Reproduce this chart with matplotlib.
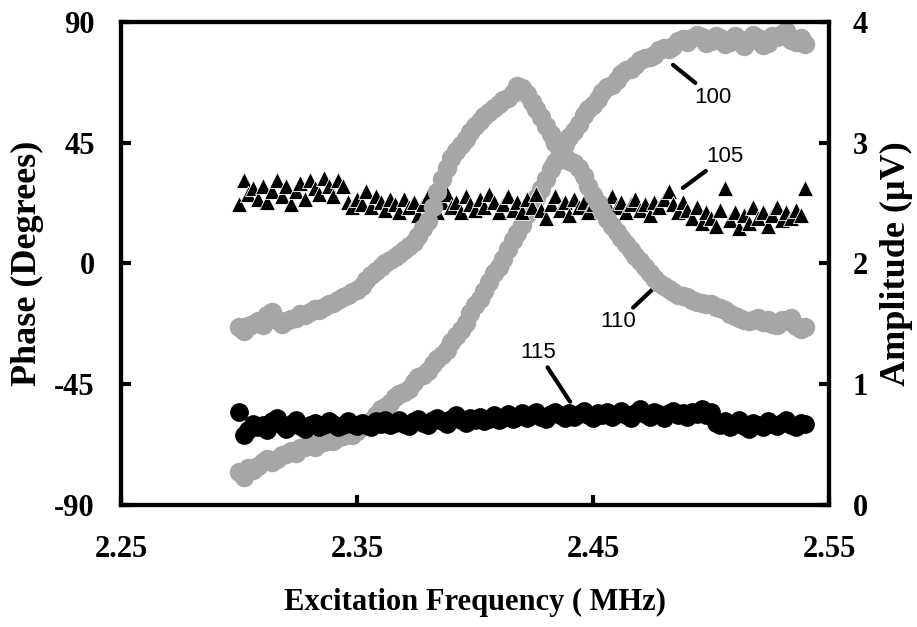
import matplotlib.pyplot as plt

plt.rcParams['axes.unicode_minus'] = False

# excitation frequency (MHz), shared by every trace
freq = [2.300, 2.302, 2.304, 2.306, 2.308, 2.310, 2.312, 2.314, 2.316, 2.318,
        2.320, 2.322, 2.324, 2.326, 2.328, 2.330, 2.332, 2.334, 2.336, 2.338,
        2.340, 2.342, 2.344, 2.346, 2.348, 2.350, 2.352, 2.354, 2.356, 2.358,
        2.360, 2.362, 2.364, 2.366, 2.368, 2.370, 2.372, 2.374, 2.376, 2.378,
        2.380, 2.382, 2.384, 2.386, 2.388, 2.390, 2.392, 2.394, 2.396, 2.398,
        2.400, 2.402, 2.404, 2.406, 2.408, 2.410, 2.412, 2.414, 2.416, 2.418,
        2.420, 2.422, 2.424, 2.426, 2.428, 2.430, 2.432, 2.434, 2.436, 2.438,
        2.440, 2.442, 2.444, 2.446, 2.448, 2.450, 2.452, 2.454, 2.456, 2.458,
        2.460, 2.462, 2.464, 2.466, 2.468, 2.470, 2.472, 2.474, 2.476, 2.478,
        2.480, 2.482, 2.484, 2.486, 2.488, 2.490, 2.492, 2.494, 2.496, 2.498,
        2.500, 2.502, 2.504, 2.506, 2.508, 2.510, 2.512, 2.514, 2.516, 2.518,
        2.520, 2.522, 2.524, 2.526, 2.528, 2.530, 2.532, 2.534, 2.536, 2.538,
        2.540]

# 100: phase (degrees), gray circles
phase_100 = [-77.7, -79.5, -76.2, -77.0, -75.6, -74.0, -73.0, -74.2, -72.8, -71.5,
             -71.0, -69.8, -70.6, -69.0, -68.5, -67.3, -68.4, -66.8, -66.5, -65.5,
             -66.2, -64.8, -64.2, -63.0, -63.9, -62.5, -61.0, -60.2, -58.6, -56.5,
             -54.2, -53.5, -51.9, -50.0, -48.6, -48.0, -46.8, -44.2, -42.3, -41.5,
             -40.1, -37.6, -35.6, -34.2, -32.3, -29.5, -27.0, -24.8, -22.2, -18.6,
             -15.5, -13.2, -10.3, -6.8, -3.6, -1.2, 1.7, 5.3, 8.7, 11.2,
             14.4, 18.3, 21.7, 24.5, 27.8, 31.6, 35.1, 37.8, 40.9, 44.5,
             47.1, 49.3, 52.1, 55.4, 57.5, 59.2, 61.4, 64.0, 65.7, 66.5,
             68.5, 70.6, 72.0, 72.6, 74.0, 75.8, 76.5, 76.9, 77.8, 79.4,
             80.2, 80.0, 81.1, 82.9, 83.6, 82.4, 84.1, 85.0, 84.3, 82.1,
             83.0, 84.8, 84.0, 81.7, 82.6, 84.6, 83.6, 80.9, 83.0, 85.2,
             83.9, 81.5, 82.2, 84.7, 84.3, 85.5, 86.8, 83.4, 82.6, 84.0,
             81.8]

# 105: phase (degrees), black triangles
phase_105 = [22, 31, 26, 28, 24, 29, 23, 27, 31, 25,
             29, 22, 27, 30, 24, 31, 28, 26, 32, 29,
             25, 31, 29, 23, 21, 24, 22, 27, 21, 25,
             23, 20, 24, 22, 19, 24, 21, 23, 18, 22,
             25, 21, 19, 23, 26, 21, 23, 19, 25, 22,
             20, 24, 21, 26, 23, 19, 22, 25, 20, 23,
             19, 24, 21, 26, 20, 17, 22, 25, 20, 23,
             18, 24, 21, 23, 19, 22, 24, 20, 22, 25,
             21, 23, 19, 22, 24, 20, 22, 18, 23, 21,
             24, 27, 22, 19, 23, 20, 17, 21, 15, 19,
             17, 14, 20, 28, 16, 19, 13, 18, 15, 21,
             17, 19, 14, 18, 21, 16, 19, 17, 20, 18,
             28]

# 110: amplitude (uV), gray circles
amp_110 = [1.47, 1.44, 1.48, 1.50, 1.52, 1.49, 1.57, 1.60, 1.53, 1.50,
           1.52, 1.54, 1.55, 1.58, 1.57, 1.60, 1.62, 1.61, 1.64, 1.66,
           1.67, 1.70, 1.72, 1.74, 1.76, 1.78, 1.81, 1.86, 1.90, 1.94,
           1.97, 2.00, 2.03, 2.05, 2.08, 2.11, 2.14, 2.18, 2.23, 2.29,
           2.35, 2.47, 2.59, 2.70, 2.79, 2.87, 2.93, 2.98, 3.03, 3.09,
           3.14, 3.18, 3.22, 3.25, 3.29, 3.32, 3.35, 3.37, 3.41, 3.47,
           3.45, 3.40, 3.34, 3.28, 3.21, 3.14, 3.07, 3.00, 2.93, 2.88,
           2.85, 2.83, 2.79, 2.72, 2.64, 2.57, 2.50, 2.43, 2.37, 2.31,
           2.26, 2.21, 2.16, 2.11, 2.06, 2.02, 1.97, 1.92, 1.88, 1.84,
           1.81, 1.79, 1.76, 1.74, 1.73, 1.72, 1.70, 1.68, 1.67, 1.66,
           1.66, 1.64, 1.63, 1.61, 1.58, 1.56, 1.55, 1.53, 1.52, 1.53,
           1.55, 1.51, 1.53, 1.50, 1.49, 1.53, 1.52, 1.55, 1.48, 1.46,
           1.47]

# 115: amplitude (uV), black circles
amp_115 = [0.77, 0.58, 0.62, 0.67, 0.64, 0.66, 0.62, 0.69, 0.72, 0.66,
           0.63, 0.67, 0.70, 0.65, 0.63, 0.66, 0.68, 0.64, 0.66, 0.69,
           0.67, 0.64, 0.66, 0.69, 0.67, 0.65, 0.68, 0.66, 0.64, 0.69,
           0.67, 0.70, 0.66, 0.68, 0.70, 0.67, 0.65, 0.69, 0.71, 0.68,
           0.66, 0.70, 0.72, 0.69, 0.67, 0.71, 0.74, 0.70, 0.68, 0.72,
           0.70, 0.73, 0.69, 0.71, 0.74, 0.70, 0.72, 0.75, 0.71, 0.73,
           0.76, 0.72, 0.74, 0.77, 0.73, 0.71, 0.75, 0.77, 0.74, 0.72,
           0.76, 0.73, 0.75, 0.78, 0.74, 0.72, 0.76, 0.74, 0.77, 0.73,
           0.75, 0.78, 0.74, 0.72, 0.76, 0.79, 0.75, 0.73, 0.77, 0.75,
           0.72, 0.76, 0.78, 0.74, 0.76, 0.73, 0.77, 0.75, 0.79, 0.74,
           0.77, 0.68, 0.66, 0.69, 0.64, 0.67, 0.70, 0.65, 0.63, 0.68,
           0.66, 0.64, 0.69, 0.67, 0.65, 0.68, 0.70, 0.66, 0.64, 0.68,
           0.67]

x_ticks = [2.25, 2.35, 2.45, 2.55]
phase_ticks = [-90, -45, 0, 45, 90]
amp_ticks = [0, 1, 2, 3, 4]

serif = 'Liberation Serif'
gray = '#a6a6a6'

fig = plt.figure(figsize=(9.17, 6.27), dpi=100)
ax = fig.add_axes([0.132, 0.195, 0.772, 0.770])
ax2 = ax.twinx()

ax.plot(freq, phase_100, 'o', color=gray, ms=14, mew=0, zorder=2)
ax.plot(freq, phase_105, '^', color='black', ms=11.5, mec='white', mew=0.6, zorder=3)
ax2.plot(freq, amp_110, 'o', color=gray, ms=14, mew=0, zorder=2)
ax2.plot(freq, amp_115, 'o', color='black', ms=13.5, mew=0, zorder=3)

ax.set_xlim(2.25, 2.55)
ax.set_ylim(-90, 90)
ax2.set_ylim(0, 4)
ax.set_xticks(x_ticks)
ax.set_xticklabels(['%.2f' % v for v in x_ticks])
ax.set_yticks(phase_ticks)
ax2.set_yticks(amp_ticks)

for a in (ax, ax2):
    for s in a.spines.values():
        s.set_linewidth(3)
    for lab in a.get_xticklabels() + a.get_yticklabels():
        lab.set_fontfamily(serif)
        lab.set_fontweight('bold')
        lab.set_fontsize(22)

ax.tick_params(axis='x', direction='in', length=7, width=3, pad=22)
ax.tick_params(axis='y', direction='in', length=7, width=3, pad=19)
ax2.tick_params(axis='y', direction='in', length=7, width=3, pad=17)

ax.set_xlabel('Excitation Frequency ( MHz)', fontfamily=serif, fontweight='bold',
              fontsize=22, labelpad=17)
ax.set_ylabel('Phase (Degrees)', fontfamily=serif, fontweight='bold',
              fontsize=26, labelpad=7)
ax2.set_ylabel('Amplitude (\u00b5V)', fontfamily=serif, fontweight='bold',
               fontsize=26, labelpad=9)

# reference labels with leader lines
labels = [('100', (2.4839, 74.0), (2.5008, 62.0)),
          ('105', (2.4881, 28.1), (2.5059, 39.7)),
          ('110', (2.4763, -8.8), (2.4606, -21.8)),
          ('115', (2.4403, -51.6), (2.4267, -33.4))]
for txt, tip, pos in labels:
    ax.annotate(txt, xy=tip, xytext=pos, ha='center', va='center',
                fontfamily='Liberation Sans', fontsize=16, zorder=5,
                arrowprops=dict(arrowstyle='-', lw=3, color='black',
                                shrinkA=1, shrinkB=0))

fig.savefig('out.png', dpi=100)
